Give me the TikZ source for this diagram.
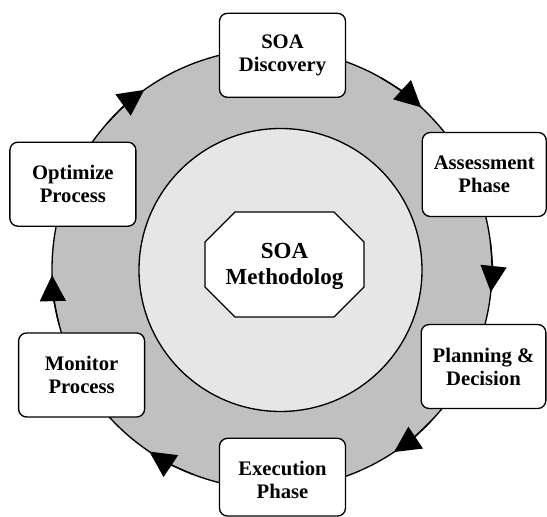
\documentclass[tikz,border=0pt]{standalone}
\usepackage{fontspec}
\setmainfont{Liberation Serif}
\usetikzlibrary{arrows.meta}
\definecolor{ringgray}{RGB}{192,192,192}
\definecolor{innergray}{RGB}{230,230,230}
\begin{document}
\begin{tikzpicture}[x=0.75pt,y=0.75pt,
  phase/.style={draw, line width=1pt, fill=white, rounded corners=6pt,
    minimum width=94.5pt, minimum height=63pt, align=center, inner sep=0pt,
    font=\fontsize{15.5}{17.25}\selectfont\bfseries},
  corefont/.style={align=center, inner sep=0pt,
    font=\fontsize{17.25}{19.5}\selectfont\bfseries},
  cyc/.style={line width=1pt, -{Triangle[length=19.5pt,width=19.5pt]}}]
\useasboundingbox (0,0) rectangle (547,517);
\coordinate (c) at (272,248);
\coordinate (ci) at (280.5,247);
% rings
\filldraw[fill=ringgray, line width=1pt] (c) circle[radius=220];
\filldraw[fill=innergray, line width=1pt] (ci) circle[radius=141.5];
% octagon
\filldraw[fill=white, line width=1pt] (235,305) -- (334,305) -- (364,275) -- (364,230)
  -- (334,200) -- (235,200) -- (205,230) -- (205,275) -- cycle;
\node[corefont] (core) at (284.5,251) {SOA\\Methodolog};
% cycle arrowheads
\foreach \a in {47.3,-6,-56.3,-123.9,181.6,125.5}
  \draw[cyc] ([shift={({\a+13}:220)}]c) arc[start angle={\a+13}, end angle=\a, radius=220];
% phase boxes
\node[phase] (disc) at (282.5,461.7) {SOA\\Discovery};
\node[phase, minimum width=93pt] (assess) at (484.3,342.5) {Assessment\\Phase};
\node[phase, minimum width=93.5pt] (plan) at (483.5,150.5) {Planning \&\\Decision};
\node[phase, minimum height=58.3pt, text depth=0pt] (exec) at (282.5,39.8) {};
\node[font=\fontsize{15.5}{17.25}\selectfont\bfseries, align=center, inner sep=0pt] (exect) at (282.5,37) {Execution\\Phase};
\node[phase] (opt) at (72.9,332.8) {Optimize\\Process};
\node[phase] (mon) at (81.6,142) {Monitor\\Process};
\end{tikzpicture}
\end{document}
